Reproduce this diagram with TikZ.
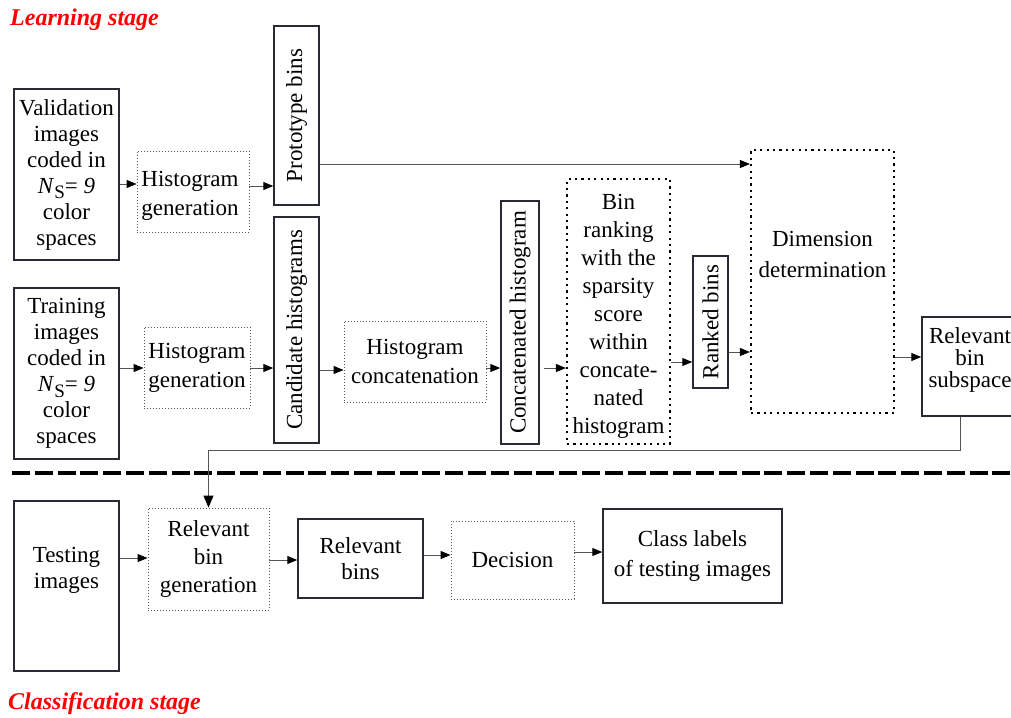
\documentclass[tikz,border=0pt]{standalone}
\usepackage{fontspec}
\setmainfont{Liberation Serif}
\usetikzlibrary{arrows.meta}

\definecolor{boxline}{HTML}{2A2A36}
\definecolor{wireline}{HTML}{555555}
\newcommand{\Nsnine}{\textit{N}\raisebox{-0.55ex}{\fontsize{19}{19}\selectfont S}= \textit{9}}

\begin{document}
\begin{tikzpicture}[x=1pt,y=-1pt,
    font=\fontsize{23}{26}\selectfont,
    stagelabel/.style={anchor=west, inner sep=0, text=red, font=\fontsize{24}{26}\selectfont\bfseries\itshape},
    solidbox/.style={draw=boxline, line width=1.5pt, inner sep=0, align=center},
    dotbox/.style={draw=wireline, line width=0.9pt, dash pattern=on 1pt off 2pt, inner sep=0, align=center},
    thickdot/.style={draw=black, line width=2.2pt, dash pattern=on 2.2pt off 4.2pt, inner sep=0, align=center},
    sideways/.style={solidbox, rotate=90}]

\useasboundingbox (0,0) rectangle (1011,717);

\node[stagelabel] (learn)   at (10,20)  {Learning stage};
\node[stagelabel] (classif) at (8,704) {Classification stage};

% learning stage
\begin{scope}[every node/.style={solidbox}]
  \node[minimum width=105, minimum height=171] (valid) at (66.5,174.5) {Validation\\images\\coded in\\\Nsnine\\color\\spaces};
  \node[minimum width=105, minimum height=171] (train) at (66.5,373.5) {Training\\images\\coded in\\\Nsnine\\color\\spaces};
  \node[sideways, minimum width=179, minimum height=45] (proto) at (296.5,115.5) {Prototype bins};
  \node[sideways, minimum width=226, minimum height=45] (cand)  at (296.5,330)   {Candidate histograms};
  \node[sideways, minimum width=243, minimum height=38] (catd)  at (520,322.5)   {Concatenated histogram};
  \node[sideways, minimum width=132, minimum height=35] (ranked) at (710.5,322)  {Ranked bins};
  \node[minimum width=96, minimum height=99] (relsub) at (970,366.5) {};
\end{scope}
\node[align=center, inner sep=0, font=\fontsize{23}{22}\selectfont] (subtext) at (970,360) {Relevant\\bin\\subspace};

\begin{scope}[every node/.style={dotbox}]
  \node[minimum width=112, minimum height=81] (histgena) at (193,191.5) {};
  \node[minimum width=106, minimum height=81, font=\fontsize{23}{29}\selectfont] (histgenb) at (197,367.5) {Histogram\\generation};
  \node[minimum width=142, minimum height=81, font=\fontsize{23}{29}\selectfont] (concat)   at (415,361.5) {Histogram\\concatenation};
\end{scope}
\node[align=center, inner sep=0, font=\fontsize{23}{29}\selectfont] (histtext) at (190,196) {Histogram\\generation};

\begin{scope}[every node/.style={thickdot}]
  \node[minimum width=103, minimum height=265] (binrank) at (618.5,311.5) {};
  \node[minimum width=143, minimum height=263] (dimdet) at (822.5,281.5) {};
\end{scope}
\node[align=center, inner sep=0, font=\fontsize{23}{28}\selectfont] (ranktext) at (binrank.center |- 0,316)
  {Bin\\ranking\\with the\\sparsity\\score\\within\\concate-\\nated\\histogram};
\node[align=center, inner sep=0, font=\fontsize{23}{31}\selectfont] (dimtext) at (dimdet.center |- 0,254) {Dimension\\determination};

% separation of the two stages
\draw[black, line width=4.5pt, dash pattern=on 18pt off 4.8pt] (12,473) -- (1011,473);

% classification stage
\begin{scope}[every node/.style={solidbox}]
  \node[minimum width=105, minimum height=170] (testing) at (66.5,586) {};
  \node[minimum width=125, minimum height=79] (relbins) at (360.5,558.5) {Relevant\\bins};
  \node[minimum width=179, minimum height=94, font=\fontsize{23}{30}\selectfont] (classlab) at (692.5,556) {Class labels\\of testing images};
\end{scope}
\node[align=center, inner sep=0] (testtext) at (testing.center |- 0,570) {Testing\\images};

\begin{scope}[every node/.style={dotbox}]
  \node[minimum width=121, minimum height=102, font=\fontsize{23}{28}\selectfont] (relgen) at (208.5,559) {Relevant\\bin\\generation};
  \node[minimum width=123, minimum height=78] (decision) at (512.5,560) {Decision};
\end{scope}

% connectors (sideways boxes: north is their left side, south their right side)
\begin{scope}[every edge/.style={draw=wireline, line width=1pt, -{Triangle[length=10pt, width=8pt, color=black]}}]
  \path (valid.east |- 0,184)    edge (histgena.west |- 0,184);
  \path (histgena.east |- 0,186) edge (proto.north |- 0,186);
  \path (proto.south |- 0,164)   edge (dimdet.west |- 0,164);
  \path (train.east |- 0,368)    edge (histgenb.west |- 0,368);
  \path (histgenb.east |- 0,368) edge (cand.north |- 0,368);
  \path (cand.south |- 0,370)    edge (concat.west |- 0,370);
  \path (concat.east |- 0,368)   edge (catd.north |- 0,368);
  \path ([xshift=4pt]catd.south |- 0,368) edge (binrank.west |- 0,368);
  \path (binrank.east |- 0,362)  edge (ranked.north |- 0,362);
  \path (ranked.south |- 0,352)  edge (dimdet.west |- 0,352);
  \path (dimdet.east |- 0,357)   edge (relsub.west |- 0,357);
  \path (testing.east |- 0,558)  edge (relgen.west |- 0,558);
  \path (relgen.east |- 0,560)   edge (relbins.west |- 0,560);
  \path (relbins.east |- 0,555)  edge (decision.west |- 0,555);
  \path (decision.east |- 0,552) edge (classlab.west |- 0,552);
\end{scope}
\draw[draw=wireline, line width=1pt, -{Triangle[length=12pt, width=10pt, color=black]}]
  ([xshift=-10pt]relsub.south) -- ([xshift=-10pt]relsub.south |- 0,450) -| (relgen.north);

\end{tikzpicture}
\end{document}
